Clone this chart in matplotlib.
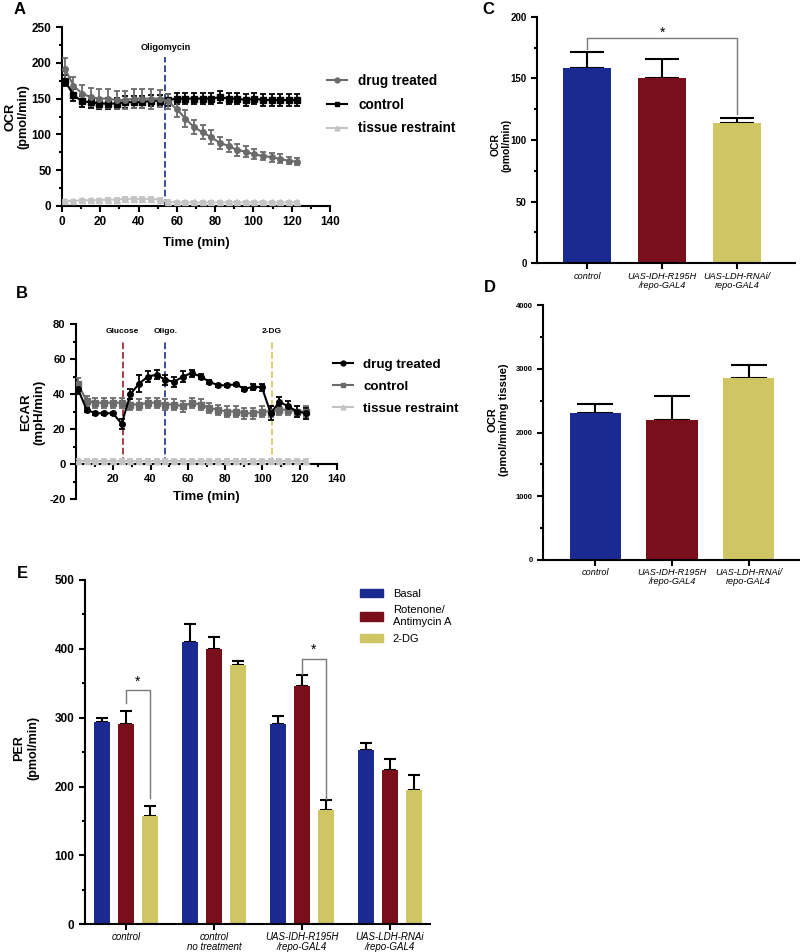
import matplotlib
matplotlib.use("Agg")
import matplotlib.pyplot as plt
from matplotlib.lines import Line2D
from matplotlib.patches import Patch
from matplotlib.ticker import MultipleLocator

plt.rcParams['font.family'] = ['Liberation Sans', 'DejaVu Sans']
plt.rcParams['axes.linewidth'] = 1.5
plt.rcParams['axes.unicode_minus'] = False

# ---- panel A: OCR time course ----
a_time = [1.5, 6, 10.5, 15, 19.5, 24, 28.5, 33, 37.5, 42, 46.5, 51, 55.5, 60,
          64.5, 69, 73.5, 78, 82.5, 87, 91.5, 96, 100.5, 105, 109.5, 114, 118.5, 123]
a_drug = [192, 168, 157, 152, 150, 150, 148, 148, 150, 150, 150, 150, 146, 135,
          122, 110, 103, 96, 88, 84, 78, 76, 72, 70, 68, 66, 63, 62]
a_drug_err = [15, 12, 12, 13, 13, 13, 12, 12, 13, 13, 14, 12, 10, 10,
              12, 10, 10, 10, 9, 8, 8, 8, 7, 6, 6, 6, 5, 5]
a_ctrl = [175, 155, 146, 145, 143, 143, 143, 145, 145, 145, 147, 147, 148, 150,
          150, 150, 150, 150, 152, 150, 150, 148, 150, 148, 148, 148, 148, 148]
a_ctrl_err = [8] * 28
a_tissue = [7, 7, 8, 8, 8, 9, 9, 10, 10, 10, 10, 9, 6, 5,
            5, 5, 5, 5, 5, 5, 5, 5, 5, 5, 5, 5, 5, 5]
a_tissue_err = [2] * 28
a_oligo = 54

# ---- panel B: ECAR time course ----
b_time = [1, 5.7, 10.4, 15.1, 19.8, 24.5, 29.2, 33.9, 38.6, 43.3, 48, 52.7, 57.4, 62.1,
          66.8, 71.5, 76.2, 80.9, 85.6, 90.3, 95, 99.7, 104.4, 109.1, 113.8, 118.5, 123.2]
b_drug = [43, 31, 29, 29, 29, 23, 40, 46, 50, 51, 48, 47, 50, 52,
          50, 47, 45, 45, 45.5, 43, 44, 44, 29, 35.5, 33, 30, 29]
b_drug_err = [3, 1, 1, 1, 1, 3, 3, 5, 3, 2.5, 3, 3, 3, 2,
              1.5, 1, 1, 1, 1, 1, 1.5, 2, 4, 3, 3, 3, 3]
b_ctrl = [46, 36, 35, 35, 35, 35, 34, 34, 35, 35, 34, 34, 33, 35,
          34, 32, 31, 30, 30, 29, 29, 30, 30, 31, 31, 30, 30]
b_ctrl_err = [3] * 27
b_tissue = [2] * 27
b_tissue_err = [1] * 27
b_glucose, b_oligo, b_2dg = 25, 48, 105

# ---- panels C, D ----
cd_groups = ['control', 'UAS-IDH-R195H\n/repo-GAL4', 'UAS-LDH-RNAi/\nrepo-GAL4']
c_ocr = [158, 150, 114]
c_err = [13, 16, 4]
d_ocr = [2310, 2190, 2850]
d_err = [140, 385, 210]

# ---- panel E: PER ----
e_groups = ['control', 'control\nno treatment', 'UAS-IDH-R195H\n/repo-GAL4',
            'UAS-LDH-RNAi\n/repo-GAL4']
e_series = ['Basal', 'Rotenone/\nAntimycin A', '2-DG']
e_basal = [294, 410, 291, 253]
e_basal_err = [6, 26, 11, 11]
e_rot = [291, 400, 346, 224]
e_rot_err = [19, 17, 16, 16]
e_2dg = [157, 377, 166, 195]
e_2dg_err = [15, 6, 14, 22]

blue, red, yellow = '#1b2a90', '#7a0f1c', '#cfc563'
dgray, lgray = '#6b6b6b', '#c4c4c4'
W, H = 800, 952

fig = plt.figure(figsize=(8, 9.52), dpi=100)


def add_ax(x0, x1, y0, y1):
    # pixel box -> figure axes
    return fig.add_axes([x0 / W, 1 - y1 / H, (x1 - x0) / W, (y1 - y0) / H])


def style(ax, size):
    ax.spines['top'].set_visible(False)
    ax.spines['right'].set_visible(False)
    ax.tick_params(which='major', direction='out', length=4, width=1.5, labelsize=size)
    ax.tick_params(which='minor', direction='out', length=2.5, width=1.5)
    for lab in ax.get_yticklabels() + ax.get_xticklabels():
        lab.set_fontweight('bold')


def cat_labels(ax, labels, size):
    ax.set_xticklabels(labels, fontsize=size, style='italic', fontweight='normal',
                       linespacing=1.0)
    ax.tick_params(axis='x', pad=2)


def tseries(ax, t, y, e, color, marker):
    ax.errorbar(t, y, yerr=e, color=color, ecolor=color, marker=marker, ms=4,
                lw=1.5, elinewidth=1.3, capsize=2.5, capthick=1.3, zorder=3)


# ---------------- A ----------------
ax = add_ax(62, 330, 27, 206)
tseries(ax, a_time, a_tissue, a_tissue_err, lgray, '^')
tseries(ax, a_time, a_ctrl, a_ctrl_err, 'black', 's')
tseries(ax, a_time, a_drug, a_drug_err, dgray, 'o')
ax.plot([a_oligo, a_oligo], [0, 208], ls='--', color='#2b3f8f', lw=1.3, zorder=2)
ax.text(a_oligo, 222, 'Oligomycin', ha='center', va='center', fontsize=6.6, fontweight='bold')
ax.set_xlim(0, 140)
ax.set_ylim(0, 250)
ax.xaxis.set_major_locator(MultipleLocator(20))
ax.xaxis.set_minor_locator(MultipleLocator(10))
ax.yaxis.set_major_locator(MultipleLocator(50))
ax.yaxis.set_minor_locator(MultipleLocator(25))
ax.set_xlabel('Time (min)', fontsize=9.5, fontweight='bold', labelpad=6)
style(ax, 8.5)
hA = [Line2D([], [], color=dgray, marker='o', ms=3.5, lw=1.5),
      Line2D([], [], color='black', marker='s', ms=3.5, lw=1.5),
      Line2D([], [], color=lgray, marker='^', ms=3.5, lw=1.5)]
ax.legend(hA, ['drug treated', 'control', 'tissue restraint'], loc='upper left',
          bbox_to_anchor=(320 / W, 1 - 67 / H), bbox_transform=fig.transFigure,
          frameon=False, borderpad=0, handlelength=1.5, handletextpad=0.8,
          labelspacing=0.72, prop={'size': 9.8, 'weight': 'bold'})
fig.text(17 / W, 1 - 117 / H, 'OCR\n(pmol/min)', rotation=90, ha='center', va='center',
         fontsize=9.2, fontweight='bold', multialignment='center', linespacing=1.1)

# ---------------- B ----------------
ax = add_ax(76, 337, 324, 499)
tseries(ax, b_time, b_tissue, b_tissue_err, lgray, '^')
tseries(ax, b_time, b_ctrl, b_ctrl_err, dgray, 's')
tseries(ax, b_time, b_drug, b_drug_err, 'black', 'o')
for xv, col, lab in [(b_glucose, '#9b2f3a', 'Glucose'), (b_oligo, '#2b3f8f', 'Oligo.'),
                     (b_2dg, '#d6cc63', '2-DG')]:
    ax.plot([xv, xv], [0, 71], ls='--', color=col, lw=1.3, zorder=2)
    ax.text(xv, 75.5, lab, ha='center', va='center', fontsize=6, fontweight='bold')
ax.set_xlim(0, 140)
ax.set_ylim(-20, 80)
ax.spines['bottom'].set_position(('data', 0))
ax.set_xticks([20, 40, 60, 80, 100, 120, 140])
ax.xaxis.set_minor_locator(MultipleLocator(10))
ax.yaxis.set_major_locator(MultipleLocator(20))
ax.yaxis.set_minor_locator(MultipleLocator(10))
style(ax, 8)
fig.text(206 / W, 1 - 497 / H, 'Time (min)', ha='center', va='center',
         fontsize=9.5, fontweight='bold')
hB = [Line2D([], [], color='black', marker='o', ms=3.5, lw=1.5),
      Line2D([], [], color=dgray, marker='s', ms=3.5, lw=1.5),
      Line2D([], [], color=lgray, marker='^', ms=3.5, lw=1.5)]
ax.legend(hB, ['drug treated', 'control', 'tissue restraint'], loc='upper left',
          bbox_to_anchor=(326 / W, 1 - 352 / H), bbox_transform=fig.transFigure,
          frameon=False, borderpad=0, handlelength=1.5, handletextpad=0.8,
          labelspacing=0.72, prop={'size': 9.6, 'weight': 'bold'})
fig.text(33 / W, 1 - 412 / H, 'ECAR\n(mpH/min)', rotation=90, ha='center', va='center',
         fontsize=9.5, fontweight='bold', multialignment='center', linespacing=1.1)


def cd_bars(ax, vals, errs, width, cap):
    xs = range(len(vals))
    ax.bar(xs, vals, width=width, color=[blue, red, yellow], zorder=2)
    ax.errorbar(xs, vals, yerr=[[0] * len(vals), errs], fmt='none', ecolor='black',
                elinewidth=1.5, capsize=cap, capthick=1.5, zorder=1)
    ax.set_xticks(list(xs))


# ---------------- C ----------------
ax = add_ax(537, 795, 16.7, 263.3)
cd_bars(ax, c_ocr, c_err, 0.65, 12)
ax.set_xlim(-0.667, 2.773)
ax.set_ylim(0, 200)
ax.yaxis.set_major_locator(MultipleLocator(50))
ax.yaxis.set_minor_locator(MultipleLocator(25))
style(ax, 7)
cat_labels(ax, cd_groups, 6.6)
ax.plot([0, 0, 2, 2], [c_ocr[0] + c_err[0] + 3, 183, 183, c_ocr[2] + c_err[2] + 3],
        color='#7a7a7a', lw=1)
ax.text(1, 187, '*', ha='center', va='center', fontsize=10)
fig.text(501 / W, 1 - 145 / H, 'OCR\n(pmol/min)', rotation=90, ha='center', va='center',
         fontsize=7.5, fontweight='bold', multialignment='center')

# ---------------- D ----------------
ax = add_ax(543, 800, 305, 560)
cd_bars(ax, d_ocr, d_err, 0.667, 13)
ax.set_xlim(-0.686, 2.673)
ax.set_ylim(0, 4000)
ax.yaxis.set_major_locator(MultipleLocator(1000))
ax.yaxis.set_minor_locator(MultipleLocator(500))
style(ax, 5.5)
cat_labels(ax, cd_groups, 6.6)
fig.text(498 / W, 1 - 420 / H, 'OCR\n(pmol/min/mg tissue)', rotation=90, ha='center',
         va='center', fontsize=8, fontweight='bold', multialignment='center')

# ---------------- E ----------------
ax = add_ax(85, 430, 580, 924.3)
off, bw = 0.273, 0.18
gx = list(range(len(e_groups)))
for k, (vals, errs, col) in enumerate([(e_basal, e_basal_err, blue),
                                       (e_rot, e_rot_err, red),
                                       (e_2dg, e_2dg_err, yellow)]):
    xs = [g + (k - 1) * off for g in gx]
    ax.bar(xs, vals, width=bw, color=col, zorder=2, label=e_series[k])
    ax.errorbar(xs, vals, yerr=[[0] * len(vals), errs], fmt='none', ecolor='black',
                elinewidth=1.5, capsize=4, capthick=1.5, zorder=1)
ax.set_xlim(-0.464, 3.455)
ax.set_ylim(0, 500)
ax.set_xticks(gx)
ax.yaxis.set_major_locator(MultipleLocator(100))
ax.yaxis.set_minor_locator(MultipleLocator(50))
style(ax, 8.5)
cat_labels(ax, e_groups, 7)
ax.tick_params(axis='x', pad=1.5)
# significance brackets: (group, left base, top, right base)
for g, yl, yt, yr in [(0, 321, 340, 183), (2, 364, 386, 182)]:
    ax.plot([g, g, g + off, g + off], [yl, yt, yt, yr], color='#7a7a7a', lw=1)
    ax.text(g + off / 2, yt + 12, '*', ha='center', va='center', fontsize=10)
hE = [Patch(color=blue), Patch(color=red), Patch(color=yellow)]
ax.legend(hE, e_series, loc='upper left', bbox_to_anchor=(354 / W, 1 - 583 / H),
          bbox_transform=fig.transFigure, frameon=False, borderpad=0,
          handlelength=2.1, handleheight=0.8, handletextpad=0.9, labelspacing=0.6,
          prop={'size': 8})
fig.text(26 / W, 1 - 748 / H, 'PER\n(pmol/min)', rotation=90, ha='center', va='center',
         fontsize=9, fontweight='bold', multialignment='center')

# panel letters
for letter, px, py in [('A', 20, 10), ('B', 22, 293), ('C', 488, 10), ('D', 490, 287),
                       ('E', 22, 573)]:
    fig.text(px / W, 1 - py / H, letter, ha='center', va='center', fontsize=12,
             fontweight='bold')

fig.savefig('out.png', dpi=100)
